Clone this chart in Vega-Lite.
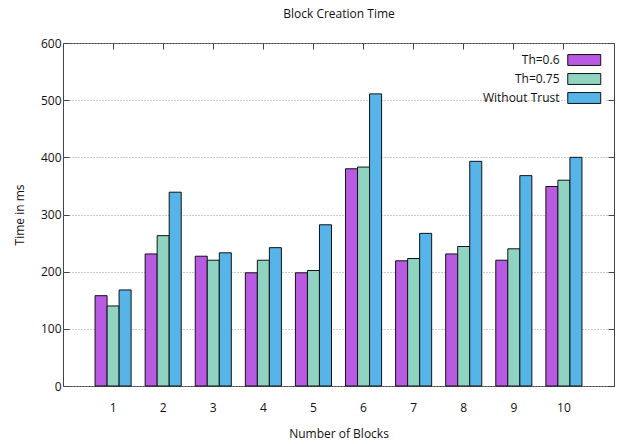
{
  "$schema": "https://vega.github.io/schema/vega-lite/v6.json",
  "width": 551,
  "height": 343,
  "autosize": "none",
  "padding": {"left": 63, "top": 43, "right": 5, "bottom": 58},
  "background": "white",
  "view": {"stroke": "#444", "strokeWidth": 1},
  "config": {
    "font": "Open Sans",
    "text": {"color": "#222"}
  },
  "data": {
    "values": [
      {"block": 1, "series": "Th=0.6", "time": 158},
      {"block": 1, "series": "Th=0.75", "time": 140},
      {"block": 1, "series": "Without Trust", "time": 168},
      {"block": 2, "series": "Th=0.6", "time": 231},
      {"block": 2, "series": "Th=0.75", "time": 263},
      {"block": 2, "series": "Without Trust", "time": 339},
      {"block": 3, "series": "Th=0.6", "time": 227},
      {"block": 3, "series": "Th=0.75", "time": 220},
      {"block": 3, "series": "Without Trust", "time": 233},
      {"block": 4, "series": "Th=0.6", "time": 198},
      {"block": 4, "series": "Th=0.75", "time": 220},
      {"block": 4, "series": "Without Trust", "time": 242},
      {"block": 5, "series": "Th=0.6", "time": 198},
      {"block": 5, "series": "Th=0.75", "time": 202},
      {"block": 5, "series": "Without Trust", "time": 282},
      {"block": 6, "series": "Th=0.6", "time": 380},
      {"block": 6, "series": "Th=0.75", "time": 383},
      {"block": 6, "series": "Without Trust", "time": 511},
      {"block": 7, "series": "Th=0.6", "time": 219},
      {"block": 7, "series": "Th=0.75", "time": 223},
      {"block": 7, "series": "Without Trust", "time": 267},
      {"block": 8, "series": "Th=0.6", "time": 231},
      {"block": 8, "series": "Th=0.75", "time": 244},
      {"block": 8, "series": "Without Trust", "time": 393},
      {"block": 9, "series": "Th=0.6", "time": 220},
      {"block": 9, "series": "Th=0.75", "time": 240},
      {"block": 9, "series": "Without Trust", "time": 368},
      {"block": 10, "series": "Th=0.6", "time": 349},
      {"block": 10, "series": "Th=0.75", "time": 360},
      {"block": 10, "series": "Without Trust", "time": 400}
    ]
  },
  "layer": [
    {
      "mark": {"type": "bar", "stroke": "#111", "strokeWidth": 1},
      "encoding": {
        "x": {
          "field": "block", "type": "ordinal",
          "scale": {"paddingInner": 0.28, "paddingOuter": 0.64},
          "axis": {
            "orient": "bottom", "title": "Number of Blocks", "labelAngle": 0,
            "labelFontSize": 12, "labelColor": "#111", "labelPadding": 16,
            "titleFontSize": 12, "titleFontWeight": "normal", "titleColor": "#111", "titlePadding": 15,
            "ticks": false, "domain": false, "grid": false
          }
        },
        "xOffset": {"field": "series", "sort": ["Th=0.6", "Th=0.75", "Without Trust"]},
        "y": {
          "field": "time", "type": "quantitative",
          "scale": {"domain": [0, 600], "nice": false},
          "axis": {
            "orient": "left", "title": "Time in ms", "values": [0, 100, 200, 300, 400, 500, 600],
            "labelFontSize": 12, "labelColor": "#111", "labelPadding": 8,
            "titleFontSize": 12, "titleFontWeight": "normal", "titleColor": "#111", "titlePadding": 14,
            "tickSize": -6, "tickColor": "#444", "domain": false,
            "grid": true, "gridDash": [1, 2], "gridColor": "#999", "gridWidth": 1
          }
        },
        "color": {
          "field": "series", "type": "nominal",
          "scale": {"domain": ["Th=0.6", "Th=0.75", "Without Trust"], "range": ["#b95ae2", "#8fd4c1", "#56b4e9"]},
          "legend": {
            "title": null, "orient": "none", "legendX": 502, "legendY": 6,
            "symbolType": "M-1,-0.66H3V0.66H-1Z", "symbolSize": 272,
            "symbolStrokeColor": "#111", "symbolStrokeWidth": 1,
            "labelAlign": "right", "labelOffset": -25.5, "labelFontSize": 12, "labelColor": "#111",
            "rowPadding": 2,
            "fillColor": "white", "padding": 2, "zindex": 1
          }
        }
      }
    },
    {
      "mark": {"type": "bar", "opacity": 0},
      "encoding": {
        "x": {
          "field": "block", "type": "ordinal",
          "axis": {
            "orient": "top", "title": "Block Creation Time", "labels": false,
            "titleFontSize": 12, "titleFontWeight": "normal", "titleColor": "#111", "titlePadding": 22,
            "tickSize": -6, "tickColor": "#444", "domain": false, "grid": false
          }
        },
        "y": {
          "field": "time", "type": "quantitative",
          "axis": {"orient": "right", "title": null, "labels": false, "values": [0, 100, 200, 300, 400, 500, 600], "tickSize": -6, "tickColor": "#444", "domain": false, "grid": false}
        }
      }
    }
  ],
  "resolve": {"axis": {"x": "independent", "y": "independent"}}
}
